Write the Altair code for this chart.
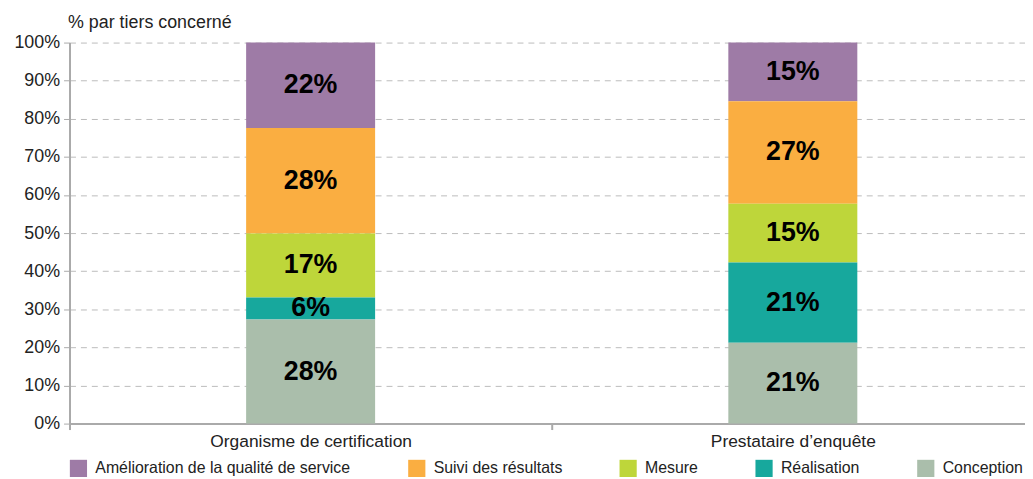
import altair as alt
import pandas as pd

FONT = "Liberation Sans"

categories = ["Organisme de certification", "Prestataire d’enquête"]
series = ["Amélioration de la qualité de service", "Suivi des résultats", "Mesure", "Réalisation", "Conception"]
colors = ["#9E7BA6", "#FAAE41", "#BED63A", "#17A89D", "#AABEAB"]

org_values = [22.4, 27.7, 16.8, 5.8, 27.3]
org_labels = ["22%", "28%", "17%", "6%", "28%"]
pre_values = [15.4, 26.9, 15.4, 21.1, 21.2]
pre_labels = ["15%", "27%", "15%", "21%", "21%"]
y_ticks = [0, 10, 20, 30, 40, 50, 60, 70, 80, 90, 100]

rows = []
for cat, vals, labs in [(categories[0], org_values, org_labels), (categories[1], pre_values, pre_labels)]:
    for i, (s, v, l) in enumerate(zip(series, vals, labs)):
        rows.append(dict(cat=cat, serie=s, value=v, label=l, ord=len(series) - 1 - i))
df = pd.DataFrame(rows)

base = alt.Chart(df).transform_stack(
    stack="value", as_=["y0", "y1"], groupby=["cat"],
    sort=[alt.SortField("ord", order="ascending")]
).transform_calculate(mid="(datum.y0 + datum.y1) / 2")

x_scale = alt.Scale(paddingInner=0, paddingOuter=0)
y_scale = alt.Scale(domain=[0, 100], nice=False)

x_axis = alt.Axis(labelAngle=0, tickBand="extent", domainColor="#aaaaaa", domainWidth=2,
                  tickColor="#aaaaaa", tickSize=6, tickWidth=2, labelFont=FONT,
                  labelFontSize=17.5, labelColor="#222222", labelPadding=3, grid=False,
                  labelLimit=0)

y_axis = alt.Axis(
    values=y_ticks, tickCount=20, labelExpr="datum.value + '%'",
    title="% par tiers concerné", titleAngle=0, titleAlign="left", titleBaseline="bottom",
    titleX=-2, titleY=-11, titleFont=FONT, titleFontSize=18, titleFontWeight="normal",
    titleColor="#222222", grid=True, gridDash=[6, 5], gridColor="#bbbbbb", gridWidth=1,
    domainColor="#aaaaaa", domainWidth=2, tickColor="#aaaaaa", tickSize=6, tickWidth=1,
    labelFont=FONT, labelFontSize=18, labelColor="#222222", labelPadding=4,
    labelOverlap=False, labelLimit=0,
)

bars = base.mark_bar(size=130).encode(
    x=alt.X("cat:N", sort=categories, title=None, scale=x_scale, axis=x_axis),
    y=alt.Y("y0:Q", scale=y_scale, axis=y_axis, title="% par tiers concerné"),
    y2="y1:Q",
    color=alt.Color(
        "serie:N", scale=alt.Scale(domain=series, range=colors),
        legend=alt.Legend(
            title=None, orient="none", legendX=0, legendY=420, direction="horizontal",
            symbolType="square", symbolSize=300, symbolStrokeWidth=0, symbolOpacity=1,
            labelFont=FONT, labelFontSize=16, labelColor="#222222", labelOffset=8,
            labelLimit=0, columnPadding=57, columns=5,
        ),
    ),
)

text = base.mark_text(font="Liberation Sans", fontSize=27, fontWeight="bold", color="black").encode(
    x=alt.X("cat:N", sort=categories, title=None, scale=x_scale, axis=x_axis),
    y=alt.Y("mid:Q", scale=y_scale, axis=y_axis, title="% par tiers concerné"),
    text="label:N",
)

chart = alt.layer(bars, text).properties(
    width=972, height=384,
    autosize=alt.AutoSizeParams(type="none"),
    padding={"left": 62, "top": 33, "right": -9, "bottom": 54},
).configure_view(stroke=None)

chart.save("out.html", embed_options={"renderer": "svg", "actions": False})
